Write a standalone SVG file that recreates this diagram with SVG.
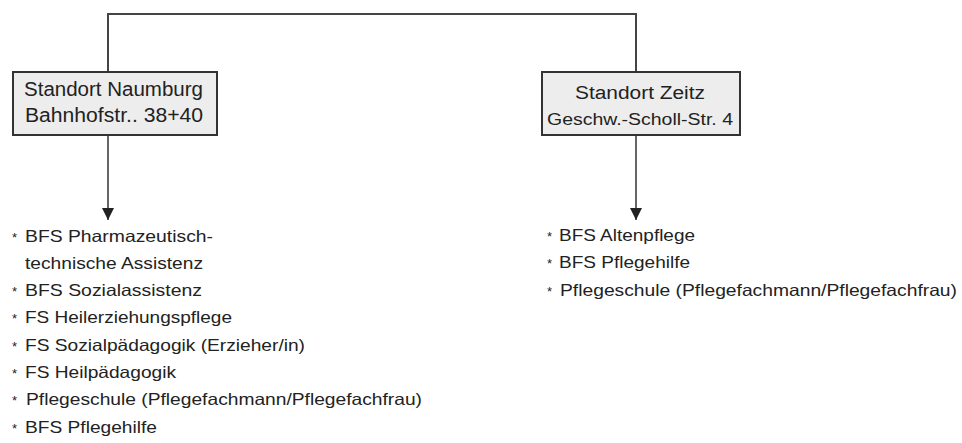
<svg xmlns="http://www.w3.org/2000/svg" width="962" height="443" viewBox="0 0 962 443">
  <defs>
    <marker id="arrow" viewBox="0 0 12 12" refX="12" refY="6" markerWidth="12" markerHeight="12" markerUnits="userSpaceOnUse" orient="auto">
      <path d="M0,0 L12,6 L0,12 Z" fill="#222"/>
    </marker>
    <style>
      .box { fill: #ededed; stroke: #333; stroke-width: 2; }
      .line { fill: none; stroke: #444; stroke-width: 2; }
      .arr { fill: none; stroke: #333; stroke-width: 1.5; }
      text { font-family: "Liberation Sans", Arial, sans-serif; fill: #222; }
      .t1 { font-size: 20px; }
      .t2 { font-size: 18px; }
      .t3 { font-size: 16px; }
      .item { font-size: 16.5px; }
      .star { font-size: 13px; }
    </style>
  </defs>

  <!-- connectors -->
  <g id="connectors">
    <path class="line" d="M108,72 V14 H636 V72"/>
    <line class="arr" x1="108" y1="135" x2="108" y2="220" marker-end="url(#arrow)"/>
    <line class="arr" x1="636" y1="135" x2="636" y2="220" marker-end="url(#arrow)"/>
  </g>

  <!-- Naumburg site -->
  <g id="naumburg">
    <rect class="box" x="13" y="72" width="204" height="63"/>
    <text class="t1" x="24" y="96" textLength="179" lengthAdjust="spacingAndGlyphs">Standort Naumburg</text>
    <text class="t1" x="25" y="121.5" textLength="178" lengthAdjust="spacingAndGlyphs">Bahnhofstr.. 38+40</text>
  </g>

  <!-- Zeitz site -->
  <g id="zeitz">
    <rect class="box" x="542" y="72" width="198" height="63"/>
    <text class="t2" x="575" y="98.5" textLength="130" lengthAdjust="spacingAndGlyphs">Standort Zeitz</text>
    <text class="t3" x="547" y="125" textLength="186" lengthAdjust="spacingAndGlyphs">Geschw.-Scholl-Str. 4</text>
  </g>

  <!-- Naumburg programmes -->
  <g id="naumburg-list">
    <text class="star" x="12" y="241.5">*</text>
    <text class="item" x="25" y="241.5" textLength="188" lengthAdjust="spacingAndGlyphs">BFS Pharmazeutisch-</text>
    <text class="item" x="25" y="268.8" textLength="178" lengthAdjust="spacingAndGlyphs">technische Assistenz</text>
    <text class="star" x="12" y="296.1">*</text>
    <text class="item" x="25" y="296.1" textLength="177" lengthAdjust="spacingAndGlyphs">BFS Sozialassistenz</text>
    <text class="star" x="12" y="323.4">*</text>
    <text class="item" x="25" y="323.4" textLength="207" lengthAdjust="spacingAndGlyphs">FS Heilerziehungspflege</text>
    <text class="star" x="12" y="350.7">*</text>
    <text class="item" x="25" y="350.7" textLength="280" lengthAdjust="spacingAndGlyphs">FS Sozialpädagogik (Erzieher/in)</text>
    <text class="star" x="12" y="378">*</text>
    <text class="item" x="25" y="378" textLength="151" lengthAdjust="spacingAndGlyphs">FS Heilpädagogik</text>
    <text class="star" x="12" y="405.3">*</text>
    <text class="item" x="26" y="405.3" textLength="396" lengthAdjust="spacingAndGlyphs">Pflegeschule (Pflegefachmann/Pflegefachfrau)</text>
    <text class="star" x="12" y="432.6">*</text>
    <text class="item" x="25" y="432.6" textLength="132" lengthAdjust="spacingAndGlyphs">BFS Pflegehilfe</text>
  </g>

  <!-- Zeitz programmes -->
  <g id="zeitz-list">
    <text class="star" x="547" y="241">*</text>
    <text class="item" x="559" y="241" textLength="136" lengthAdjust="spacingAndGlyphs">BFS Altenpflege</text>
    <text class="star" x="547" y="268.3">*</text>
    <text class="item" x="559" y="268.3" textLength="131" lengthAdjust="spacingAndGlyphs">BFS Pflegehilfe</text>
    <text class="star" x="547" y="295.6">*</text>
    <text class="item" x="560" y="295.6" textLength="397" lengthAdjust="spacingAndGlyphs">Pflegeschule (Pflegefachmann/Pflegefachfrau)</text>
  </g>
</svg>
